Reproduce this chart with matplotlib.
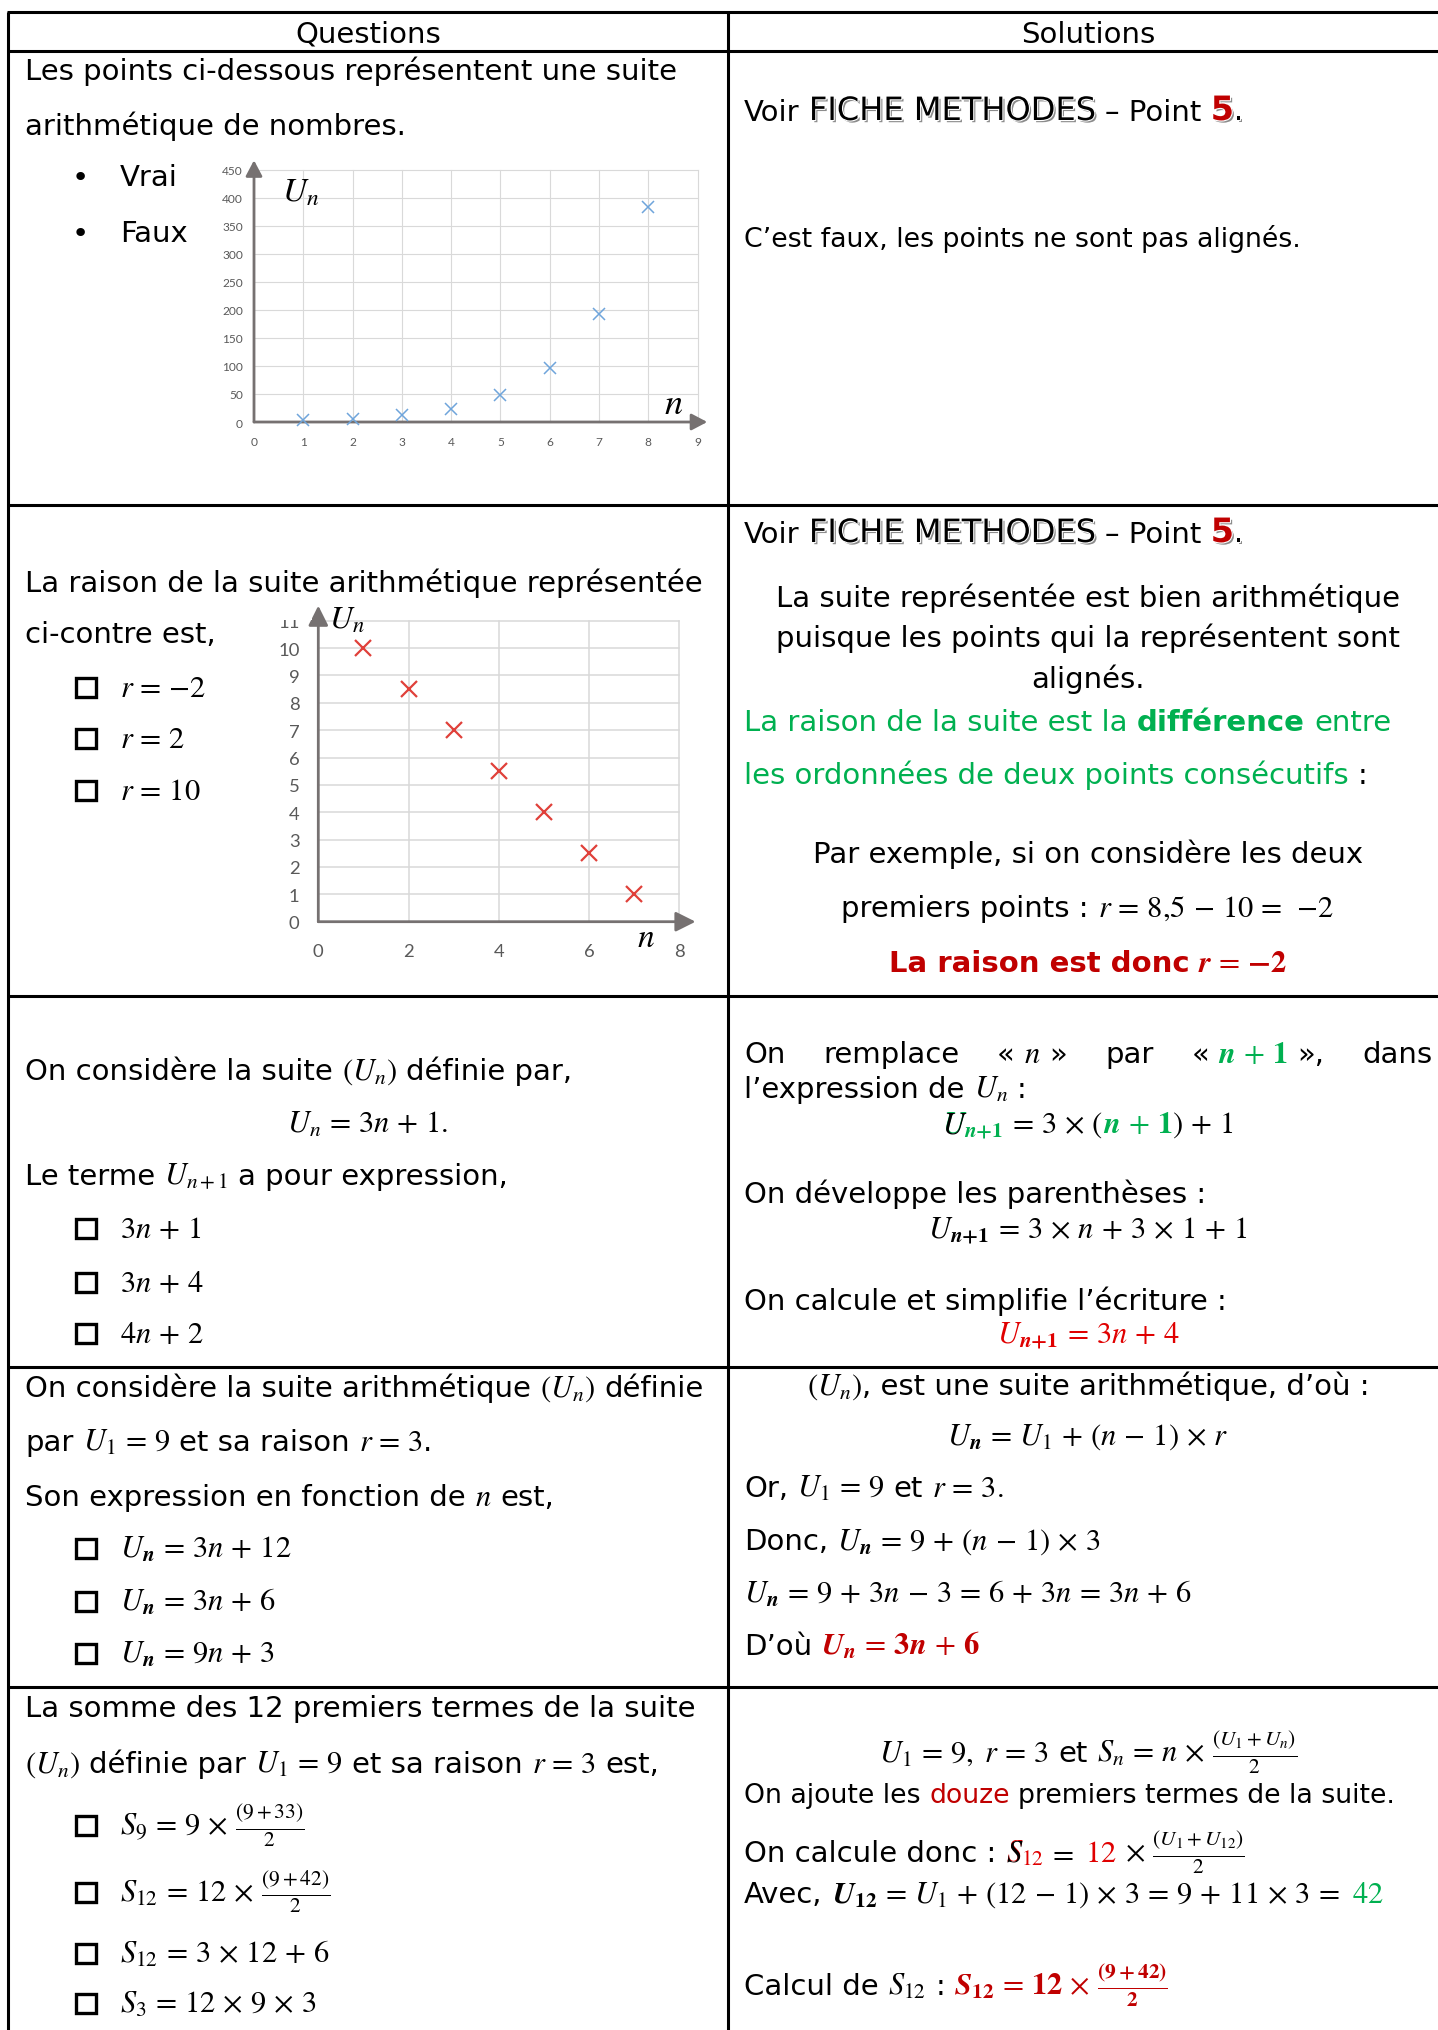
import matplotlib
matplotlib.use('Agg')
import matplotlib.pyplot as plt
import matplotlib.patheffects as pe
from matplotlib.patches import Rectangle

# ---------------- data ----------------
chart1_n = [1, 2, 3, 4, 5, 6, 7, 8]
chart1_u = [3, 6, 12, 24, 48, 96, 192, 384]
chart1_xticks = list(range(0, 10))
chart1_yticks = list(range(0, 451, 50))

chart2_n = [1, 2, 3, 4, 5, 6, 7]
chart2_u = [10, 8.5, 7, 5.5, 4, 2.5, 1]
chart2_xticks = [0, 2, 4, 6, 8]
chart2_yticks = list(range(0, 12))

headers = ["Questions", "Solutions"]

# ---------------- setup ----------------
plt.rcParams['font.family'] = ['DejaVu Sans']
plt.rcParams['mathtext.fontset'] = 'stix'

W, H = 1438, 2031
fig = plt.figure(figsize=(W / 100, H / 100), dpi=100)
ax0 = fig.add_axes([0, 0, 1, 1])
ax0.set_xlim(0, W)
ax0.set_ylim(H, 0)
ax0.axis('off')
renderer = fig.canvas.get_renderer()

FS = 21
MFS = 22
K = 'black'
GREEN = '#00B050'
RED = '#C00000'
RED2 = '#E00000'
FX = [pe.SimplePatchShadow(offset=(1.6, -1.6), shadow_rgbFace='#8C8C8C', alpha=1.0),
      pe.Stroke(linewidth=1.6, foreground='white'), pe.Normal()]


def measure(s, props):
    t = ax0.text(0, 0, s, va='baseline', **props)
    w = t.get_window_extent(renderer).width
    t.remove()
    return w


def mspace(m):
    for op in [' = ', ' + ', ' - ', r' \times ']:
        m = m.replace(op, r' \,' + op.strip() + r'\, ')
    return m


def pieces(s):
    out = []
    for i, p in enumerate(s.split('$')):
        if p == '':
            continue
        out.append((i % 2 == 1, p))
    return out


def rich(x, y, segs, ha='left', fs=FS, mfs=MFS, draw=True, fit=None):
    if fit is not None:
        tot = rich(x, y, segs, fs=fs, mfs=mfs, draw=False)
        k = fit / tot
        return rich(x, y, segs, ha=ha, fs=fs * k, mfs=mfs * k, draw=draw)
    parts = []
    for seg in segs:
        if isinstance(seg, tuple):
            s, kw = seg
        else:
            s, kw = seg, {}
        kw = dict(kw)
        over = kw.pop('overlay', None)
        scale = kw.pop('scale', 1.0)
        for is_math, p in pieces(s):
            props = dict(color=K)
            props.update(kw)
            if is_math:
                core = '$' + mspace(p) + '$'
                props['fontsize'] = mfs * scale
                lead = trail = 0.0
                ov = ('$' + over + '$') if over else None
            else:
                core = p.strip(' ')
                props['fontsize'] = fs * scale
                sp = 0.318 * props['fontsize'] / 0.72
                lead = sp if p.startswith(' ') else 0.0
                trail = sp if p.endswith(' ') else 0.0
                ov = None
            w = measure(core, props) if core else 0.0
            parts.append((core, props, ov, lead, w, trail))
    total = sum(a + w + b for _, _, _, a, w, b in parts)
    if not draw:
        return total
    if ha == 'center':
        x = x - total / 2
    elif ha == 'right':
        x = x - total
    cur = x
    for core, props, ov, a, w, b in parts:
        cur += a
        if core:
            ax0.text(cur, y, core, ha='left', va='baseline', **props)
            if ov:
                p2 = dict(props)
                p2['color'] = K
                p2.pop('path_effects', None)
                ax0.text(cur, y, ov, ha='left', va='baseline', **p2)
        cur += w + b
    return total


def justify(x0, x1, y, groups):
    widths = [rich(0, 0, g, draw=False) for g in groups]
    gap = (x1 - x0 - sum(widths)) / (len(groups) - 1)
    cur = x0
    for g, w in zip(groups, widths):
        rich(cur, y, g)
        cur += w + gap


def box(y):
    ax0.add_patch(Rectangle((76, y - 18), 20, 19, fill=False, ec='black', lw=2.4))


# ---------------- table lines ----------------
HL = [13, 52, 506, 997, 1368, 1688]
VL = [8, 728]
for yy in HL:
    ax0.plot([VL[0] - 1.5, W], [yy, yy], color='black', lw=2.2, solid_capstyle='butt')
for xx in VL:
    ax0.plot([xx, xx], [HL[0], H], color='black', lw=2.2, solid_capstyle='butt')

rich(368, 43, [headers[0]], ha='center')
rich(1088, 43, [headers[1]], ha='center')

LX = 25
RX = 744
CQ = 368
CS = 1088
IX = 120


def voir(y):
    rich(RX, y, ["Voir ", ("FICHE METHODES", {'path_effects': FX, 'scale': 1.1}), " – Point ",
                 ("5", {'color': RED, 'fontweight': 'bold', 'scale': 1.15, 'path_effects': FX}),
                 (".", {'path_effects': FX})])


# ---------------- Row 1 ----------------
rich(LX, 80, ["Les points ci-dessous représentent une suite"])
rich(LX, 135, ["arithmétique de nombres."])
for yy, lab in [(186, "Vrai"), (242, "Faux")]:
    ax0.text(80, yy, "•", ha='center', va='baseline', fontsize=FS)
    rich(IX, yy, [lab])
voir(121)
rich(RX, 247, ["C’est faux, les points ne sont pas alignés."], fit=557)

# ---------------- Row 2 ----------------
rich(LX, 592, ["La raison de la suite arithmétique représentée"])
rich(LX, 643, ["ci-contre est,"])
for yy, lab in [(697, r"$r = {-2}$"), (748, r"$r = 2$"), (800, r"$r = 10$")]:
    box(yy)
    rich(IX, yy, [lab])
voir(543)
rich(CS, 607, ["La suite représentée est bien arithmétique"], ha='center')
rich(CS, 647, ["puisque les points qui la représentent sont"], ha='center')
rich(CS, 688, ["alignés."], ha='center')
rich(RX, 731, [("La raison de la suite est la ", {'color': GREEN}),
               ("différence", {'color': GREEN, 'fontweight': 'bold'}),
               (" entre", {'color': GREEN})])
rich(RX, 784, [("les ordonnées de deux points consécutifs", {'color': GREEN}), " :"])
rich(CS, 863, ["Par exemple, si on considère les deux"], ha='center')
rich(CS, 917, [r"premiers points : $r = 8{,}5 - 10 = \ {-2}$"], ha='center')
rich(CS, 972, [("La raison est donc ", {'color': RED, 'fontweight': 'bold'}),
               (r"$\mathbfit{r} = {\mathbf{-2}}$", {'color': RED})], ha='center')

# ---------------- Row 3 ----------------
rich(LX, 1080, [r"On considère la suite $(U_n)$ définie par,"])
rich(CQ, 1133, [r"$U_n = 3n + 1.$"], ha='center')
rich(LX, 1185, [r"Le terme $U_{n+1}$ a pour expression,"])
for yy, lab in [(1238, r"$3n + 1$"), (1292, r"$3n + 4$"), (1343, r"$4n + 2$")]:
    box(yy)
    rich(IX, yy, [lab])

justify(RX, 1432, 1063, [
    ["On"], ["remplace"], [r"« $n$ »"], ["par"],
    ["« ", (r"$\mathbfit{n} + \mathbf{1}$", {'color': GREEN}), " »,"],
    ["dans"]])
rich(RX, 1098, [r"l’expression de $U_n$ :"])
rich(CS, 1133, [(r"$U_{\mathbfit{n}\mathbf{+1}}$", {'color': GREEN, 'overlay': r"U"}),
                (r"$\,=\, 3 \times ($", {}),
                (r"$\mathbfit{n} + \mathbf{1}$", {'color': GREEN}),
                (r"$) + 1$", {})], ha='center')
rich(RX, 1203, ["On développe les parenthèses :"])
rich(CS, 1238, [r"$U_{\mathbfit{n}\mathbf{+1}} = 3 \times n + 3 \times 1 + 1$"], ha='center')
rich(RX, 1310, ["On calcule et simplifie l’écriture :"])
rich(CS, 1343, [(r"$U_{\mathbfit{n}\mathbf{+1}} = 3n + 4$", {'color': RED2})], ha='center')

# ---------------- Row 4 ----------------
rich(LX, 1397, [r"On considère la suite arithmétique $(U_n)$ définie"])
rich(LX, 1451, [r"par $U_1 = 9$ et sa raison $r = 3$."])
rich(LX, 1506, [r"Son expression en fonction de $n$ est,"])
for yy, lab in [(1558, r"$U_{\mathbfit{n}} = 3n + 12$"), (1611, r"$U_{\mathbfit{n}} = 3n + 6$"),
                (1663, r"$U_{\mathbfit{n}} = 9n + 3$")]:
    box(yy)
    rich(IX, yy, [lab])

rich(CS, 1395, [r"$(U_n)$, est une suite arithmétique, d’où :"], ha='center')
rich(CS, 1445, [r"$U_{\mathbfit{n}} = U_1 + (n - 1) \times r$"], ha='center')
rich(RX, 1497, [r"Or, $U_1 = 9$ et $r = 3.$"])
rich(RX, 1550, [r"Donc, $U_{\mathbfit{n}} = 9 + (n - 1) \times 3$"])
rich(RX, 1603, [r"$U_{\mathbfit{n}} = 9 + 3n - 3 = 6 + 3n = 3n + 6$"])
rich(RX, 1655, ["D’où ", (r"$\mathbfit{U}_{\mathbfit{n}} = \mathbf{3}\mathbfit{n} + \mathbf{6}$",
                          {'color': RED})])

# ---------------- Row 5 ----------------
rich(LX, 1717, ["La somme des 12 premiers termes de la suite"])
rich(LX, 1773, [r"$(U_n)$ définie par $U_1 = 9$ et sa raison $r = 3$ est,"])
for yy, lab in [(1835, r"$S_9 = 9 \times \frac{(9+33)}{2}$"),
                (1902, r"$S_{12} = 12 \times \frac{(9+42)}{2}$"),
                (1963, r"$S_{12} = 3 \times 12 + 6$"),
                (2013, r"$S_3 = 12 \times 9 \times 3$")]:
    box(yy)
    rich(IX, yy, [lab])

rich(CS, 1762, [r"$U_1 = 9,\ r = 3$  et $S_n = n \times \frac{(U_1+U_n)}{2}$"], ha='center')
rich(RX, 1803, ["On ajoute les ", ("douze", {'color': RED}), " premiers termes de la suite."],
     fit=654)
rich(RX, 1862, ["On calcule donc : ",
                (r"$S_{12}$", {'color': RED2, 'overlay': r"S"}),
                (r"$\,=$", {}),
                (r"$\;\;12$", {'color': RED2}),
                (r"$\,{}\times\, \frac{(U_1+U_{12})}{2}$", {})])
rich(RX, 1903, [r"Avec, $\mathbfit{U}_{\mathbf{12}} = U_1 + (12 - 1) \times 3 = 9 + 11 \times 3 \,=$",
                (r"$\;\;42$", {'color': GREEN})])
rich(RX, 1995, [r"Calcul de $S_{12}$ : ",
                (r"$\mathbfit{S}_{\mathbf{12}} = \mathbf{12} \times \frac{\mathbf{(9+42)}}{\mathbf{2}}$",
                 {'color': RED})])


# ---------------- charts ----------------
def px_axes(x0, y_top, x1, y_bottom):
    return fig.add_axes([x0 / W, 1 - y_bottom / H, (x1 - x0) / W, (y_bottom - y_top) / H])


AXIS_C = '#767171'
TICK_C = '#595959'


def setup_chart(ax, xt, yt, tick_fs, padx, pady, grid_lw, tip_x, tip_y, head):
    ax.set_xlim(xt[0], xt[-1])
    ax.set_ylim(yt[0], yt[-1])
    ax.set_xticks(xt)
    ax.set_yticks(yt)
    ax.set_facecolor('none')
    for s in ax.spines.values():
        s.set_visible(False)
    ax.tick_params(length=0, labelsize=tick_fs, labelcolor=TICK_C)
    ax.tick_params(axis='x', pad=padx)
    ax.tick_params(axis='y', pad=pady)
    for lab in ax.get_xticklabels() + ax.get_yticklabels():
        lab.set_fontfamily('Lato')
    ax.grid(True, color='#D9D9D9', lw=grid_lw, clip_on=False)
    ax.set_axisbelow(True)
    style = '-|>,head_length=%.2f,head_width=%.2f' % head
    ax.annotate('', xy=(tip_x, 0), xytext=(0, 0), xycoords='axes fraction',
                arrowprops=dict(arrowstyle=style, color=AXIS_C, lw=2.0, shrinkA=0, shrinkB=0),
                annotation_clip=False)
    ax.annotate('', xy=(0, tip_y), xytext=(0, 0), xycoords='axes fraction',
                arrowprops=dict(arrowstyle=style, color=AXIS_C, lw=2.0, shrinkA=0, shrinkB=0),
                annotation_clip=False)


ax1 = px_axes(254, 170.6, 697.5, 423)
setup_chart(ax1, chart1_xticks, chart1_yticks, 8.6, 10, 8, 0.8, 1.022, 1.037, (0.95, 0.5))
ax1.plot(chart1_n, chart1_u, linestyle='none', marker='x', ms=9, mew=1.1, color='#6FA5DB',
         clip_on=False, zorder=5)
ax1.text(0.104, 0.915, r'$U_n$', transform=ax1.transAxes, fontsize=24, ha='center', va='center')
ax1.text(0.946, 0.075, r'$n$', transform=ax1.transAxes, fontsize=26, ha='center', va='center')

ax2 = px_axes(318.3, 621.7, 679.3, 922.7)
setup_chart(ax2, chart2_xticks, chart2_yticks, 13.3, 15, 13.5, 1.1, 1.045, 1.05, (1.2, 0.6))
ax2.plot(chart2_n, chart2_u, linestyle='none', marker='x', ms=12, mew=1.6, color='#E0403A',
         clip_on=False, zorder=5)
ax2.text(0.078, 1.003, r'$U_n$', transform=ax2.transAxes, fontsize=23, ha='center', va='center')
ax2.text(0.908, -0.048, r'$n$', transform=ax2.transAxes, fontsize=24, ha='center', va='center')

# the source picture of the second chart is cropped just through the top label
fig.add_artist(Rectangle((270 / W, 1 - 621 / H), 42 / W, 25 / H, transform=fig.transFigure,
                         facecolor='white', edgecolor='none', zorder=10))

fig.savefig('out.png', dpi=100, facecolor='white')
